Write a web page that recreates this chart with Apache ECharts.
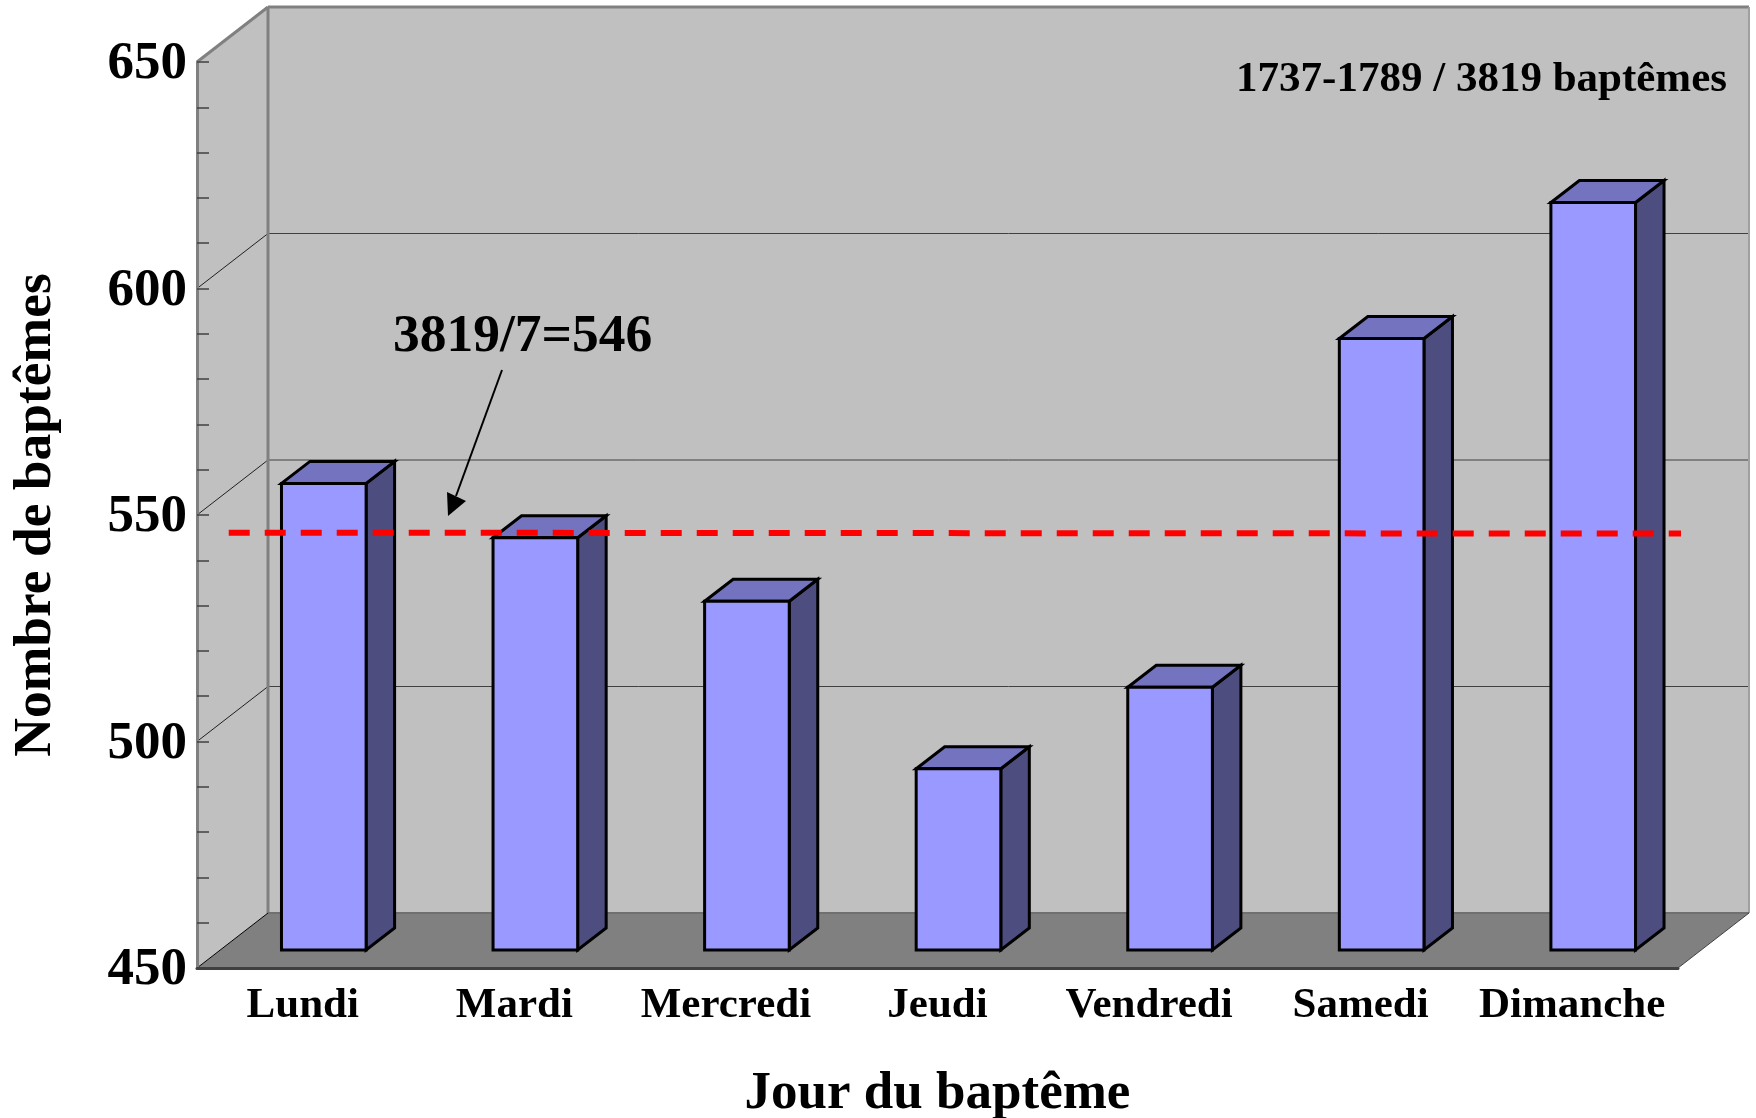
<!DOCTYPE html>
<html>
<head>
<meta charset="utf-8">
<title>Jour du baptême</title>
<style>
	html, body { margin: 0; padding: 0; background: #fff; }
	#chart { width: 1756px; height: 1118px; }
</style>
<script src="https://cdn.jsdelivr.net/npm/echarts@6/dist/echarts.min.js"></script>
</head>
<body>
<div id="chart"></div>
<script>
const days = ["Lundi", "Mardi", "Mercredi", "Jeudi", "Vendredi", "Samedi", "Dimanche"]
const baptisms = [553, 541, 527, 490, 508, 585, 615]
const yTicks = [500, 550, 600, 650]
const meanX = [0.15, 7.025]
const meanY = [546.1, 545.9]

const font = "Liberation Serif"
// depth of the fake 3d box, in pixels
const wallDx = 71
const wallDy = -55
const barShiftX = 21
const barShiftY = -18
const barDx = 28.5
const barDy = -22

const poly = (points, fill, stroke, width) => ({
	type: "polygon",
	shape: { points },
	style: { fill, stroke: stroke || "none", lineWidth: width || 0 }
})
const seg = (x1, y1, x2, y2, stroke, width) => ({
	type: "line",
	shape: { x1, y1, x2, y2 },
	style: { stroke, lineWidth: width }
})

const renderFrame = (params, api) => {
	const g = params.coordSys
	const l = g.x, r = g.x + g.width, t = g.y, b = g.y + g.height
	const bl = l + wallDx, br = r + wallDx, bt = t + wallDy, bb = b + wallDy
	const children = [
		poly([[bl, bt], [br, bt], [br, bb], [bl, bb]], "#c0c0c0"),
		poly([[l, b], [l, t], [bl, bt], [bl, bb]], "#c0c0c0"),
		poly([[l, b], [r, b], [br, bb], [bl, bb]], "#808080")
	]
	yTicks.forEach(v => {
		const y = api.coord([0, v])[1]
		if (v < 650) {
			children.push(seg(bl, y + wallDy, br, y + wallDy, "#404040", 1))
			children.push(seg(l, y, bl, y + wallDy, "#202020", 1))
		}
	})
	children.push(seg(l, t, bl, bt, "#808080", 3))
	children.push(seg(bl, bt, br, bt, "#808080", 3))
	children.push(seg(bl, bt, bl, bb, "#808080", 3))
	children.push(seg(br, bt, br, bb, "#a0a0a0", 2))
	children.push(seg(bl, bb, br, bb, "#707070", 2))
	children.push(seg(l, b, bl, bb, "#000", 1))
	children.push(seg(r, b + 1, br, bb + 1, "#fff", 1.5))
	children.push(seg(r, b, br, bb, "#404040", 1))
	return { type: "group", children }
}

const renderBar = (params, api) => {
	const top = api.coord([api.value(0), api.value(1)])
	const base = api.coord([api.value(0), 450])
	const w = api.size([1, 0])[0] * 0.4
	const x0 = top[0] + barShiftX - w / 2
	const x1 = x0 + w
	const yt = top[1] + barShiftY
	const yb = base[1] + barShiftY
	return {
		type: "group",
		children: [
			poly([[x1, yt], [x1 + barDx, yt + barDy], [x1 + barDx, yb + barDy], [x1, yb]], "#4d4d80", "#000", 3),
			poly([[x0, yt], [x0 + barDx, yt + barDy], [x1 + barDx, yt + barDy], [x1, yt]], "#7373bf", "#000", 3),
			poly([[x0, yt], [x1, yt], [x1, yb], [x0, yb]], "#9999ff", "#000", 3)
		]
	}
}

const chart = echarts.init(document.getElementById("chart"), null, { renderer: "canvas" })

chart.setOption({
	backgroundColor: "#fff",
	animation: false,
	grid: { left: 197, right: 78, top: 62, bottom: 150, containLabel: false, outerBoundsMode: "none" },
	xAxis: [
		{
			type: "category",
			data: days,
			z: 3,
			name: "Jour du baptême",
			nameLocation: "middle",
			nameGap: 100,
			nameTextStyle: { fontFamily: font, fontWeight: "bold", fontSize: 53, color: "#000" },
			axisLine: { lineStyle: { color: "#404040", width: 3 } },
			axisTick: { show: false },
			axisLabel: { interval: 0, margin: 16, fontFamily: font, fontWeight: "bold", fontSize: 43, color: "#000" },
			splitLine: { show: false }
		},
		{ type: "value", min: 0, max: 7, show: false, splitLine: { show: false } }
	],
	yAxis: {
		type: "value",
		min: 450,
		max: 650,
		interval: 50,
		z: 3,
		name: "Nombre de baptêmes",
		nameLocation: "middle",
		nameGap: 134,
		nameRotate: 90,
		nameTextStyle: { fontFamily: font, fontWeight: "bold", fontSize: 53.5, color: "#000" },
		axisLine: { show: true, lineStyle: { color: "#808080", width: 3 } },
		axisTick: { show: true, inside: true, length: 12, lineStyle: { color: "#404040", width: 1.5 } },
		minorTick: { show: true, splitNumber: 5, length: 12, lineStyle: { color: "#404040", width: 1.5 } },
		axisLabel: {
			margin: 10,
			formatter: "{num|{value}}",
			rich: { num: { padding: [5, 0, 0, 0], fontFamily: font, fontWeight: "bold", fontSize: 53, color: "#000" } }
		},
		splitLine: { show: false },
		minorSplitLine: { show: false }
	},
	series: [
		{
			type: "custom",
			z: 1,
			silent: true,
			data: [[0, 450]],
			encode: { x: 0, y: 1 },
			renderItem: renderFrame
		},
		{
			type: "custom",
			name: "Baptêmes",
			z: 4,
			data: baptisms.map((v, i) => [i, v]),
			encode: { x: 0, y: 1 },
			renderItem: renderBar
		},
		{
			type: "line",
			name: "Moyenne",
			xAxisIndex: 1,
			z: 6,
			clip: false,
			symbol: "none",
			lineStyle: { color: "#ff0000", width: 6, type: [21, 15] },
			data: meanX.map((x, i) => [x, meanY[i]])
		}
	],
	graphic: [
		{
			type: "text", z: 10, x: 1727, y: 80,
			style: { text: "1737-1789 / 3819 baptêmes", align: "right", verticalAlign: "middle", font: `bold 43px "${font}"`, fill: "#000" }
		},
		{
			type: "text", z: 10, x: 393, y: 337,
			style: { text: "3819/7=546", align: "left", verticalAlign: "middle", font: `bold 53.5px "${font}"`, fill: "#000" }
		},
		{
			type: "line", z: 10,
			shape: { x1: 502, y1: 370, x2: 456, y2: 496 },
			style: { stroke: "#000", lineWidth: 2 }
		},
		{
			type: "polygon", z: 10,
			shape: { points: [[448, 516], [447, 492], [466, 501]] },
			style: { fill: "#000" }
		}
	]
})
</script>
</body>
</html>
